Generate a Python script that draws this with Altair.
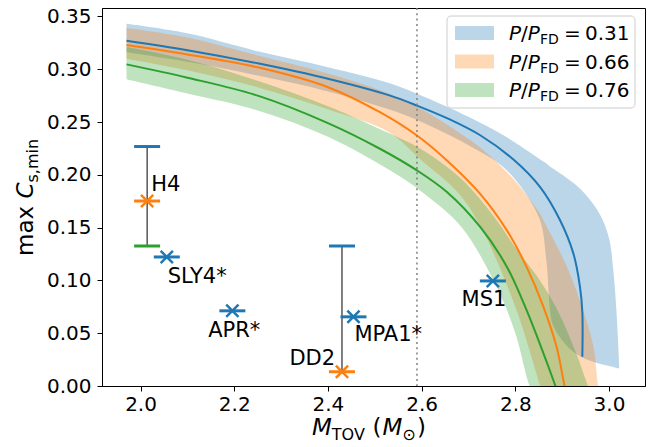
import altair as alt
import pandas as pd

C0, C1, C2 = "#1f77b4", "#ff7f0e", "#2ca02c"
SERIES = ["0.31", "0.66", "0.76"]

# ---- centre lines (M_TOV, max C_s,min) ----
BLUE_X = [1.970, 2.10, 2.25, 2.40, 2.533, 2.59, 2.66, 2.725, 2.796, 2.853, 2.8955, 2.924, 2.938, 2.943, 2.943]
BLUE_Y = [0.327, 0.318, 0.3056, 0.291, 0.275, 0.2656, 0.2525, 0.2375, 0.2145, 0.1884, 0.157, 0.1254, 0.0939, 0.070, 0.0277]
ORANGE_X = [1.970, 2.10, 2.25, 2.40, 2.511, 2.59, 2.654, 2.725, 2.782, 2.824, 2.86, 2.888, 2.9025, 2.906]
ORANGE_Y = [0.323, 0.314, 0.3018, 0.283, 0.2593, 0.2372, 0.2136, 0.182, 0.1474, 0.1128, 0.075, 0.0371, 0.0057, -0.002]
GREEN_X = [1.970, 2.10, 2.25, 2.40, 2.511, 2.59, 2.654, 2.725, 2.782, 2.824, 2.86, 2.881, 2.887]
GREEN_Y = [0.3046, 0.292, 0.275, 0.249, 0.2247, 0.2042, 0.1837, 0.1506, 0.1128, 0.0718, 0.0309, 0.0057, -0.002]

# ---- bands ----
BLUE_BX = [1.970, 2.10, 2.25, 2.40, 2.53, 2.60, 2.70, 2.78, 2.85, 2.866, 2.874, 2.88, 2.91, 2.94, 2.98, 3.00, 3.009, 3.016, 3.022]
BLUE_HI = [0.343, 0.334, 0.317, 0.302, 0.287, 0.275, 0.255, 0.236, 0.2155, 0.211, 0.208, 0.206, 0.197, 0.186, 0.163, 0.140, 0.110, 0.070, 0.0167]
BLUE_LO = [0.316, 0.307, 0.294, 0.279, 0.262, 0.250, 0.228, 0.205, 0.160, 0.120, 0.072, 0.058, 0.038, 0.0277, 0.021, 0.019, 0.018, 0.017, 0.0167]

ORANGE_BX = [1.970, 2.10, 2.25, 2.40, 2.53, 2.60, 2.68, 2.73, 2.80, 2.853, 2.86, 2.91, 2.94, 2.967, 2.977, 2.985]
ORANGE_HI = [0.339, 0.330, 0.313, 0.296, 0.277, 0.262, 0.240, 0.224, 0.194, 0.163, 0.157, 0.113, 0.078, 0.037, 0.0, -0.01]
ORANGE_LO = [0.310, 0.299, 0.283, 0.262, 0.2404, 0.2136, 0.182, 0.1474, 0.075, 0.0, -0.01, -0.01, -0.01, -0.01, -0.01, -0.01]

GREEN_BX = [1.970, 2.10, 2.25, 2.40, 2.533, 2.60, 2.685, 2.76, 2.80, 2.831, 2.845, 2.89, 2.93, 2.955, 2.965]
GREEN_HI = [0.321, 0.309, 0.289, 0.265, 0.2388, 0.224, 0.196, 0.157, 0.131, 0.113, 0.1048, 0.0718, 0.0309, 0.0, -0.01]
GREEN_LO = [0.2905, 0.277, 0.261, 0.236, 0.204, 0.184, 0.1506, 0.094, 0.050, 0.0, -0.01, -0.01, -0.01, -0.01, -0.01]

# ---- EOS points ----
PT_NAMES = ["H4", "SLY4*", "APR*", "DD2", "MPA1*", "MS1"]
PT_X = [2.014, 2.056, 2.196, 2.430, 2.4545, 2.752]
PT_Y = [0.1752, 0.1222, 0.0712, 0.0135, 0.0655, 0.0995]
PT_C = [C1, C0, C0, C1, C0, C0]
LBL_X = [2.0538, 2.121, 2.200, 2.3666, 2.5287, 2.733]
LBL_Y = [0.190, 0.1033, 0.0523, 0.0252, 0.0482, 0.0813]

# error bars (H4 and DD2)
EB_X = [2.014, 2.430]
EB_LO = [0.1326, 0.0135]
EB_HI = [0.2268, 0.1326]
CAP_X = [2.014, 2.014, 2.430]
CAP_Y = [0.2268, 0.1326, 0.1326]
CAP_C = [C0, C2, C0]

VLINE_X = [2.59]

XDOM = [1.9177, 3.0768]
YDOM = [0.0, 0.358]
XTICKS = [2.0, 2.2, 2.4, 2.6, 2.8, 3.0]
YTICKS = [0.0, 0.05, 0.10, 0.15, 0.20, 0.25, 0.30, 0.35]

FONT = "DejaVu Sans"

lines = []
for s, xs_, ys_ in zip(SERIES, [BLUE_X, ORANGE_X, GREEN_X], [BLUE_Y, ORANGE_Y, GREEN_Y]):
    for i, (a, b) in enumerate(zip(xs_, ys_)):
        lines.append({"s": s, "i": i, "x": a, "y": b})
line_df = pd.DataFrame(lines)

bands = []
for s, bx, hi, lo in zip(SERIES, [BLUE_BX, ORANGE_BX, GREEN_BX], [BLUE_HI, ORANGE_HI, GREEN_HI], [BLUE_LO, ORANGE_LO, GREEN_LO]):
    for a, h, l in zip(bx, hi, lo):
        bands.append({"s": s, "x": a, "hi": h, "lo": l})
band_df = pd.DataFrame(bands)

pt_df = pd.DataFrame({"x": PT_X, "y": PT_Y, "c": PT_C})
lbl_df = pd.DataFrame({"x": LBL_X, "y": LBL_Y, "t": PT_NAMES})
eb_df = pd.DataFrame({"x": EB_X, "lo": EB_LO, "hi": EB_HI})
cap_df = pd.DataFrame({"x": CAP_X, "y": CAP_Y, "c": CAP_C})
vl_df = pd.DataFrame({"x": VLINE_X})

xs = alt.Scale(domain=XDOM, nice=False, zero=False)
ys = alt.Scale(domain=YDOM, nice=False, zero=False)
cscale = alt.Scale(domain=SERIES, range=[C0, C1, C2])

X = alt.X("x:Q", scale=xs, axis=alt.Axis(values=XTICKS, format=".1f", title=None))
Y = alt.Y("y:Q", scale=ys, axis=alt.Axis(values=YTICKS, format=".2f", title=None))

band_layer = alt.Chart(band_df).mark_area(opacity=0.3, clip=True, interpolate="catmull-rom").encode(
    x=X, y=alt.Y("lo:Q", scale=ys, axis=alt.Axis(values=YTICKS, format=".2f", title=None)), y2="hi:Q",
    color=alt.Color("s:N", scale=cscale, legend=None))

line_layer = alt.Chart(line_df).mark_line(strokeWidth=2, clip=True, interpolate="catmull-rom").encode(
    x=X, y=Y, color=alt.Color("s:N", scale=cscale, legend=None), order="i:Q")

vline = alt.Chart(vl_df).mark_rule(color="gray", strokeWidth=1.5, strokeDash=[2, 3.3]).encode(x=X)

eb_layer = alt.Chart(eb_df).mark_rule(color="black", strokeWidth=1).encode(
    x=X, y=alt.Y("lo:Q", scale=ys), y2="hi:Q")

cap_layer = alt.Chart(cap_df).mark_point(shape="M-1,0L1,0", size=676, strokeWidth=3, filled=False, opacity=1).encode(
    x=X, y=Y, color=alt.Color("c:N", scale=None))

bar_layer = alt.Chart(pt_df).mark_point(shape="M-1,0L1,0", size=676, strokeWidth=3, filled=False, opacity=1).encode(
    x=X, y=Y, color=alt.Color("c:N", scale=None))
x_layer = alt.Chart(pt_df).mark_point(shape="M-1,-1L1,1M-1,1L1,-1", size=150, strokeWidth=2.5, filled=False, opacity=1).encode(
    x=X, y=Y, color=alt.Color("c:N", scale=None))

lbl_layer = alt.Chart(lbl_df).mark_text(font=FONT, fontSize=21, align="center", baseline="middle", color="black").encode(
    x=X, y=Y, text="t:N")

# ---- hand-set typography (axis titles with sub-scripts, legend) in pixel space ----
TB = 427
TXT = [
    # x-axis title  M_TOV (M_sun)
    (210, TB, "M", 23, "i", 0), (229.8, TB + 5, "TOV", 16, "u", 0), (270.6, TB, "(", 23, "u", 0),
    (280.5, TB, "M", 23, "i", 0), (300.3, TB + 5, "\u2299", 16, "u", 0), (315, TB, ")", 23, "u", 0),
    # y-axis title  max C_{s,min}
    (-69, 248, "max", 23, "u", 270), (-69, 190.6, "C", 23, "i", 270), (-64, 174.5, "s,min", 16, "u", 270),
]
for k, (lab, yc) in enumerate(zip(SERIES, [25, 53.5, 82])):
    b = yc + 7.3
    TXT += [(407, b, "P", 20, "i", 0), (419.1, b, "/", 20, "u", 0), (425.8, b, "P", 20, "i", 0),
            (437.9, b + 4, "FD", 14, "u", 0), (462, b, "=", 20, "u", 0), (483, b, lab, 20, "u", 0)]
txt_df = pd.DataFrame(TXT, columns=["px", "py", "t", "fs", "st", "ang"])

PX = alt.X("px:Q", scale=None, axis=None)
PY = alt.Y("py:Q", scale=None, axis=None)
PS = alt.Size("fs:Q", scale=None, legend=None)

def txt_layer(style, ang):
    d = txt_df[(txt_df.st == style) & (txt_df.ang == ang)]
    kw = dict(font=FONT, align="left", baseline="alphabetic", color="black", angle=ang)
    if style == "i":
        kw["fontStyle"] = "italic"
    return alt.Chart(d).mark_text(**kw).encode(x=PX, y=PY, text="t:N", size=PS)

LEG_BOX = pd.DataFrame({"px": [345], "px2": [533], "py": [8], "py2": [100]})
leg_box = alt.Chart(LEG_BOX).mark_rect(fill="white", fillOpacity=0.8, stroke="#cccccc", strokeWidth=1, cornerRadius=4).encode(
    x=alt.X("px:Q", scale=None, axis=None), x2="px2", y=alt.Y("py:Q", scale=None, axis=None), y2="py2")
LEG_SW = pd.DataFrame({"px": [353] * 3, "px2": [392] * 3, "py": [18, 46.5, 75], "py2": [32, 60.5, 89], "c": [C0, C1, C2]})
leg_sw = alt.Chart(LEG_SW).mark_rect(opacity=0.3).encode(
    x=alt.X("px:Q", scale=None, axis=None), x2="px2", y=alt.Y("py:Q", scale=None, axis=None), y2="py2",
    color=alt.Color("c:N", scale=None))

chart = alt.layer(
    band_layer, line_layer, vline, eb_layer, cap_layer, bar_layer, x_layer, lbl_layer,
    leg_box, leg_sw,
    txt_layer("u", 0), txt_layer("i", 0), txt_layer("u", 270), txt_layer("i", 270),
).properties(
    width=543, height=378,
    autosize=alt.AutoSizeParams(type="none"),
    padding={"left": 94, "top": 0, "right": 6, "bottom": 58},
).configure_view(stroke="black", strokeWidth=1).configure_axis(
    labelFont=FONT, labelFontSize=20, labelColor="black", tickColor="black", domainColor="black",
    tickSize=5, tickWidth=1, domainWidth=1, grid=False,
).configure_axisX(labelPadding=3).configure_axisY(labelPadding=6)

chart.save("out.html", embed_options={"renderer": "svg", "actions": False})
